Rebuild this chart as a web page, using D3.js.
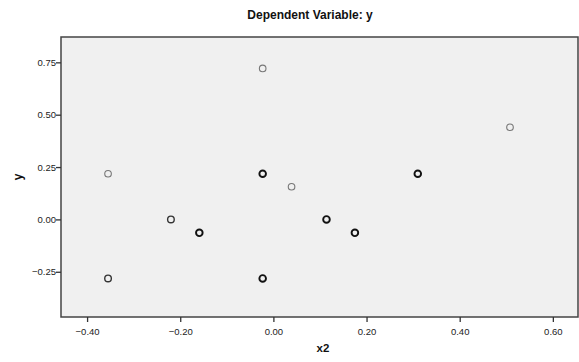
<!DOCTYPE html>
<html><head><meta charset="utf-8">
<script src="https://cdn.jsdelivr.net/npm/d3@7"></script>
<style>body{margin:0;background:#fff;font-family:"Liberation Sans",Arial,sans-serif;}</style>
</head><body>
<svg id="c" width="579" height="362"></svg>
<script>
const xValues = [-0.355, -0.355, -0.22, -0.159, -0.023, -0.023, -0.023, 0.039, 0.114, 0.175, 0.31, 0.508];
const yValues = [0.218, -0.282, 0.0, -0.064, 0.218, -0.282, 0.721, 0.156, 0.0, -0.064, 0.218, 0.44];
const caseCounts = [1, 2, 2, 3, 3, 3, 1, 1, 3, 3, 3, 1];
const xTicks = [-0.40, -0.20, 0.00, 0.20, 0.40, 0.60];
const yTicks = [-0.25, 0.00, 0.25, 0.50, 0.75];
const title = "Dependent Variable: y";
const xLabel = "x2", yLabel = "y";

const svg = d3.select("#c");
const L = 61, R = 578, T = 37, B = 317;
const x = d3.scaleLinear().domain([-0.456, 0.654]).range([L, R]);
const y = d3.scaleLinear().domain([-0.466, 0.871]).range([B, T]);

svg.append("rect").attr("x", L).attr("y", T).attr("width", R - L).attr("height", B - T)
  .attr("fill", "#f0f0f0").attr("stroke", "#444").attr("stroke-width", 1.5);

const xa = svg.append("g").attr("transform", `translate(0,${B})`)
  .call(d3.axisBottom(x).tickValues(xTicks).tickFormat(d3.format(".2f")).tickSize(5).tickSizeOuter(0));
const ya = svg.append("g").attr("transform", `translate(${L},0)`)
  .call(d3.axisLeft(y).tickValues(yTicks).tickFormat(d3.format(".2f")).tickSize(5).tickSizeOuter(0));
[xa, ya].forEach(a => {
  a.select(".domain").remove();
  a.selectAll(".tick line").attr("stroke", "#333").attr("stroke-width", 1.3);
  a.selectAll(".tick text").attr("fill", "#222").style("font-size", "9.5px").style("font-family", "Liberation Sans, Arial, sans-serif");
});
xa.selectAll(".tick text").attr("dy", "1.1em");
ya.selectAll(".tick text").attr("x", -5);

const strokeCol = { 1: "#777", 2: "#333", 3: "#111" };
const strokeW = { 1: 1.1, 2: 1.4, 3: 1.9 };
const pts = xValues.map((v, i) => ({ x: v, y: yValues[i], n: caseCounts[i] }));
svg.append("g").selectAll("circle").data(pts).join("circle")
  .attr("cx", d => x(d.x)).attr("cy", d => y(d.y)).attr("r", 3.3)
  .attr("fill", "none")
  .attr("stroke", d => strokeCol[d.n])
  .attr("stroke-width", d => strokeW[d.n]);

svg.append("text").attr("x", 310).attr("y", 19).attr("text-anchor", "middle")
  .style("font-size", "12px").style("font-weight", "bold").attr("fill", "#111").text(title);
svg.append("text").attr("x", 323).attr("y", 352).attr("text-anchor", "middle")
  .style("font-size", "11.5px").style("font-weight", "bold").attr("fill", "#111").text(xLabel);
svg.append("text").attr("transform", "translate(22,177) rotate(-90)").attr("text-anchor", "middle")
  .style("font-size", "12px").style("font-weight", "bold").attr("fill", "#111").text(yLabel);
</script>
</body></html>
